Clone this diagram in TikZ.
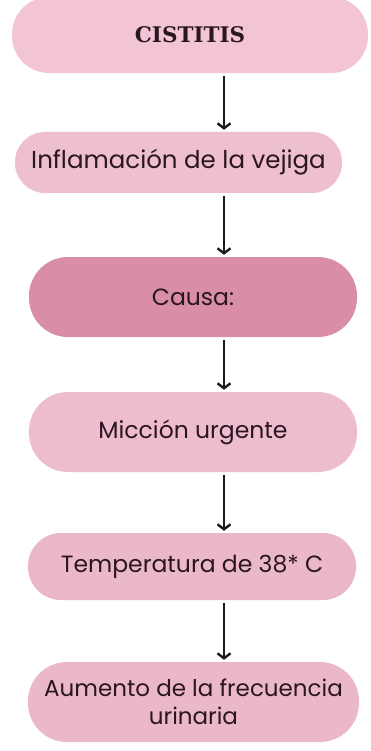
\documentclass[tikz,border=0pt]{standalone}
\usepackage{fontspec}
\setmainfont{Poppins}
\newfontfamily\titlefont{DejaVu Serif}
\usetikzlibrary{arrows.meta}
\definecolor{pinkA}{HTML}{F2C4D5}
\definecolor{pinkB}{HTML}{EDBFD0}
\definecolor{pinkC}{HTML}{D98DA9}
\definecolor{pinkD}{HTML}{EDBCCF}
\definecolor{pinkE}{HTML}{EAB8C9}
\definecolor{pinkF}{HTML}{EBB8C9}
\definecolor{txt}{HTML}{2B1620}
\definecolor{arrowc}{HTML}{1A1A1A}
\begin{document}
\begin{tikzpicture}[x=1pt,y=1pt,
  box/.style={inner sep=0pt, text=txt, align=center, font=\fontsize{23.5}{28}\selectfont},
  arr/.style={draw=arrowc, line width=2.6pt, -{Straight Barb[length=5pt,width=13pt,line width=2.4pt]}}]
\useasboundingbox (0,0) rectangle (370,-751);
\fill[white] (0,0) rectangle (370,-751);
\coordinate (ax) at (224,0);
\node[box, fill=pinkA, minimum width=356pt, minimum height=76pt, rounded corners=37pt] (b1) at (190,-35) {\titlefont\bfseries\fontsize{21.5}{24}\selectfont CISTITIS};
\node[box, fill=pinkB, minimum width=327pt, minimum height=61pt, rounded corners=30pt, font=\fontsize{24.5}{28}\selectfont] (b2) at (178.5,-162.5) {Inflamación de la vejiga};
\node[box, fill=pinkC, minimum width=328pt, minimum height=80pt, rounded corners=39pt] (b3) at (193,-297) {Causa:};
\node[box, fill=pinkD, minimum width=328pt, minimum height=80pt, rounded corners=39pt] (b4) at (193,-432) {Micción urgente};
\node[box, fill=pinkE, minimum width=328pt, minimum height=67pt, rounded corners=33pt] (b5) at (192,-566.5) {Temperatura de 38* C};
\node[box, fill=pinkF, minimum width=331pt, minimum height=80pt, rounded corners=39pt, font=\fontsize{23}{28}\selectfont] (b6) at (193.5,-702) {Aumento de la frecuencia\\urinaria};
\draw[arr] ([yshift=-3pt]b1.south -| ax) -- ([yshift=2pt]b2.north -| ax);
\draw[arr] ([yshift=-3pt]b2.south -| ax) -- ([yshift=2pt]b3.north -| ax);
\draw[arr] ([yshift=-3pt]b3.south -| ax) -- ([yshift=2pt]b4.north -| ax);
\draw[arr] ([yshift=-3pt]b4.south -| ax) -- ([yshift=2pt]b5.north -| ax);
\draw[arr] ([yshift=-3pt]b5.south -| ax) -- ([yshift=2pt]b6.north -| ax);
\end{tikzpicture}
\end{document}
